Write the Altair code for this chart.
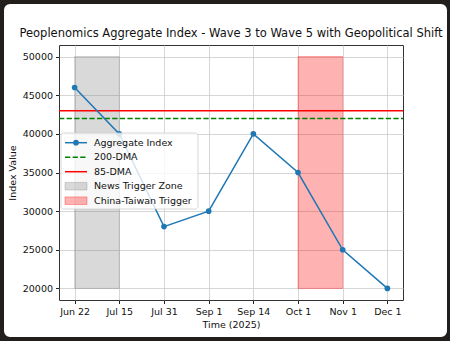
import json
import altair as alt
import pandas as pd

# ---------------- data ----------------
DATES = ["Jun 22", "Jul 15", "Jul 31", "Sep 1", "Sep 14", "Oct 1", "Nov 1", "Dec 1"]
INDEX_VALUES = [46000, 40000, 28000, 30000, 40000, 35000, 25000, 20000]
DMA_LABELS = ["200-DMA", "85-DMA"]
DMA_VALUES = [42000, 43000]
ZONE_LABELS = ["News Trigger Zone", "China-Taiwan Trigger"]
ZONE_START = [0, 5]
ZONE_END = [1, 6]
ZONE_LOW = [20000, 20000]
ZONE_HIGH = [50000, 50000]
Y_TICKS = [20000, 25000, 30000, 35000, 40000, 45000, 50000]
LEGEND_LABELS = ["Aggregate Index", "200-DMA", "85-DMA", "News Trigger Zone", "China-Taiwan Trigger"]
TITLE = "Peoplenomics Aggregate Index - Wave 3 to Wave 5 with Geopolitical Shift"

main = pd.DataFrame({"pos": list(range(len(DATES))), "date": DATES, "value": INDEX_VALUES})
dma = pd.DataFrame({"label": DMA_LABELS, "value": DMA_VALUES})
zones = pd.DataFrame({"label": ZONE_LABELS, "start": ZONE_START, "end": ZONE_END,
                      "low": ZONE_LOW, "high": ZONE_HIGH})

# ---------------- styling ----------------
FONT = "DejaVu Sans"
BLUE = "#1f77b4"
GREEN = "#008000"
RED = "#ff0000"
GRAY = "#808080"
W, H = 344, 255
PAD = {"left": 59, "top": 45, "right": 450 - 59 - W, "bottom": 341 - 45 - H}

x_scale = alt.Scale(domain=[-0.35, len(DATES) - 1 + 0.35], nice=False, zero=False)
y_scale = alt.Scale(domain=[18500, 51500], nice=False, zero=False)

x_axis = alt.Axis(values=list(range(len(DATES))),
                  labelExpr=json.dumps(DATES) + "[datum.value]",
                  title="Time (2025)", grid=True, gridColor="#cccccc", gridWidth=0.8,
                  domain=False, tickColor="#222", tickSize=3.5, labelPadding=3,
                  labelFontSize=9.5, titleFontSize=9.5, titleFontWeight="normal",
                  titlePadding=3, labelColor="#111", titleColor="#111", labelFlush=False)
y_axis = alt.Axis(values=Y_TICKS, format="d", title="Index Value", grid=True,
                  gridColor="#cccccc", gridWidth=0.8, domain=False, tickColor="#222",
                  tickSize=3.5, labelPadding=3, labelFontSize=9.5, titleFontSize=9.5,
                  titleFontWeight="normal", titlePadding=5, labelColor="#111", titleColor="#111")

base = alt.Chart(main)

zone_layer = alt.Chart(zones).mark_rect(fillOpacity=0.3, strokeOpacity=0.3, strokeWidth=1).encode(
    x=alt.X("start:Q", scale=x_scale, axis=x_axis),
    x2="end:Q",
    y=alt.Y("low:Q", scale=y_scale, axis=y_axis),
    y2="high:Q",
    fill=alt.Fill("label:N", scale=alt.Scale(domain=ZONE_LABELS, range=[GRAY, RED]), legend=None),
    stroke=alt.Stroke("label:N", scale=alt.Scale(domain=ZONE_LABELS, range=[GRAY, RED]), legend=None),
)

rule200 = alt.Chart(dma).transform_filter(alt.datum.label == "200-DMA").mark_rule(
    color=GREEN, strokeWidth=1.5, strokeDash=[5.3, 2.3]).encode(
    y=alt.Y("value:Q", scale=y_scale), x=alt.value(0), x2=alt.value(W))
rule85 = alt.Chart(dma).transform_filter(alt.datum.label == "85-DMA").mark_rule(
    color=RED, strokeWidth=1.5).encode(
    y=alt.Y("value:Q", scale=y_scale), x=alt.value(0), x2=alt.value(W))

line = base.mark_line(color=BLUE, strokeWidth=1.5).encode(
    x=alt.X("pos:Q", scale=x_scale), y=alt.Y("value:Q", scale=y_scale))
points = base.mark_circle(color=BLUE, size=32, opacity=1).encode(
    x=alt.X("pos:Q", scale=x_scale), y=alt.Y("value:Q", scale=y_scale))

# ---------------- manual legend (matplotlib style) ----------------
one = pd.DataFrame({"k": [0]})
LX0, LX1 = 2, 139
LY0, LY1 = 88, 164
ROW0, ROWSTEP = 97.7, 14.5
HX0, HX1 = 6, 28
TX = 35

legend_layers = [
    alt.Chart(one).mark_rect(fill="white", fillOpacity=0.8, stroke="#cccccc", strokeWidth=0.8,
                             cornerRadius=2.5).encode(
        x=alt.value(LX0), x2=alt.value(LX1), y=alt.value(LY0), y2=alt.value(LY1))
]
rows = [ROW0 + i * ROWSTEP for i in range(len(LEGEND_LABELS))]
legend_layers.append(alt.Chart(one).mark_rule(color=BLUE, strokeWidth=1.5).encode(
    x=alt.value(HX0), x2=alt.value(HX1), y=alt.value(rows[0])))
legend_layers.append(alt.Chart(one).mark_circle(color=BLUE, size=32, opacity=1).encode(
    x=alt.value((HX0 + HX1) / 2), y=alt.value(rows[0])))
legend_layers.append(alt.Chart(one).mark_rule(color=GREEN, strokeWidth=1.5, strokeDash=[5.3, 2.3]).encode(
    x=alt.value(HX0), x2=alt.value(HX1), y=alt.value(rows[1])))
legend_layers.append(alt.Chart(one).mark_rule(color=RED, strokeWidth=1.5).encode(
    x=alt.value(HX0), x2=alt.value(HX1), y=alt.value(rows[2])))
for i, col in [(3, GRAY), (4, RED)]:
    legend_layers.append(alt.Chart(one).mark_rect(fill=col, fillOpacity=0.3, stroke=col,
                                                  strokeOpacity=0.3, strokeWidth=1).encode(
        x=alt.value(HX0), x2=alt.value(HX1), y=alt.value(rows[i] - 3.8), y2=alt.value(rows[i] + 3.8)))
for i, lab in enumerate(LEGEND_LABELS):
    legend_layers.append(alt.Chart(one).mark_text(text=lab, align="left", baseline="middle",
                                                  fontSize=9.5, font=FONT, color="#111").encode(
        x=alt.value(TX), y=alt.value(rows[i])))

# ---------------- title as text ----------------
title = alt.Chart(one).mark_text(text=TITLE, align="center", baseline="middle", fontSize=11.5,
                                 font=FONT, color="#111").encode(
    x=alt.value(W / 2), y=alt.value(-11))

# ---------------- dark frame with rounded inner corners ----------------
frame = alt.Chart(one).mark_rect(fillOpacity=0, stroke="#221e1c", strokeWidth=12, cornerRadius=12).encode(
    x=alt.value(-61), x2=alt.value(394), y=alt.value(-47), y2=alt.value(298))

chart = alt.layer(zone_layer, rule200, rule85, line, points, *legend_layers, title, frame).properties(
    width=W, height=H,
    autosize=alt.AutoSizeParams(type="none"),
    padding=PAD,
    background="white",
).configure(font=FONT).configure_view(stroke="#333", strokeWidth=1)

chart.save("out.html", embed_options={"renderer": "svg", "actions": False})
